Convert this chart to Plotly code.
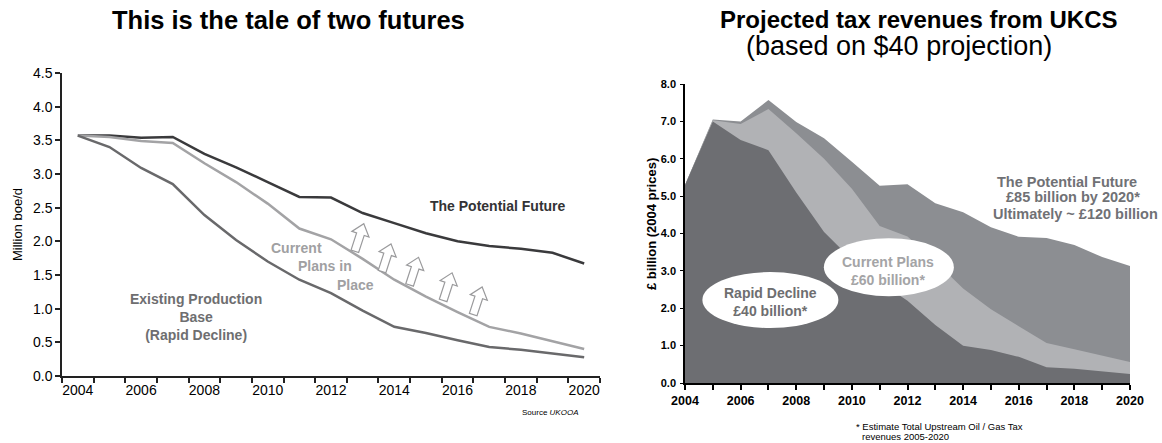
import math
import plotly.graph_objects as go

# ---------------- data ----------------
years = list(range(2004, 2021))

# Left chart: production (million boe/d)
potential_prod = [3.57, 3.57, 3.54, 3.55, 3.30, 3.10, 2.88, 2.66, 2.65, 2.42, 2.27, 2.12, 2.00, 1.93, 1.89, 1.83, 1.67]
current_prod = [3.57, 3.55, 3.49, 3.46, 3.16, 2.88, 2.56, 2.19, 2.03, 1.74, 1.43, 1.18, 0.95, 0.73, 0.63, 0.52, 0.40]
existing_prod = [3.57, 3.40, 3.09, 2.85, 2.39, 2.02, 1.70, 1.43, 1.23, 0.97, 0.73, 0.64, 0.53, 0.43, 0.39, 0.33, 0.28]

# Right chart: tax revenues (GBP billion, 2004 prices)
rev_potential = [5.30, 7.05, 7.00, 7.57, 6.98, 6.55, 5.92, 5.28, 5.32, 4.81, 4.57, 4.17, 3.91, 3.88, 3.69, 3.37, 3.13]
rev_current = [5.30, 7.03, 6.93, 7.33, 6.68, 6.00, 5.20, 4.20, 3.92, 3.25, 2.53, 1.97, 1.52, 1.07, 0.90, 0.72, 0.56]
rev_rapid = [5.30, 7.00, 6.50, 6.23, 5.10, 4.04, 3.30, 2.70, 2.20, 1.55, 1.00, 0.88, 0.70, 0.42, 0.38, 0.30, 0.24]

left_xticks = [2004, 2006, 2008, 2010, 2012, 2014, 2016, 2018, 2020]
left_yticks = [0.0, 0.5, 1.0, 1.5, 2.0, 2.5, 3.0, 3.5, 4.0, 4.5]

# ---------------- styling / layout constants ----------------
W, H = 1162, 443
FONT = "Liberation Sans, Arial, sans-serif"


def px(x):
    return x / W


def py(y):
    return 1 - y / H


fig = go.Figure()

# left chart lines
fig.add_trace(go.Scatter(x=years, y=potential_prod, mode="lines",
                         line=dict(color="#3a3a3c", width=2.5), xaxis="x", yaxis="y",
                         name="The Potential Future", showlegend=False))
fig.add_trace(go.Scatter(x=years, y=current_prod, mode="lines",
                         line=dict(color="#a3a3a5", width=2.5), xaxis="x", yaxis="y",
                         name="Current Plans in Place", showlegend=False))
fig.add_trace(go.Scatter(x=years, y=existing_prod, mode="lines",
                         line=dict(color="#69696b", width=2.5), xaxis="x", yaxis="y",
                         name="Existing Production Base", showlegend=False))

# right chart areas (overlapping, largest first)
fig.add_trace(go.Scatter(x=years, y=rev_potential, mode="lines", fill="tozeroy",
                         fillcolor="#8c8e92", line=dict(width=0, color="#8c8e92"),
                         xaxis="x2", yaxis="y2", name="Potential", showlegend=False))
fig.add_trace(go.Scatter(x=years, y=rev_current, mode="lines", fill="tozeroy",
                         fillcolor="#b1b2b5", line=dict(width=0, color="#b1b2b5"),
                         xaxis="x2", yaxis="y2", name="Current", showlegend=False))
fig.add_trace(go.Scatter(x=years, y=rev_rapid, mode="lines", fill="tozeroy",
                         fillcolor="#6d6e72", line=dict(width=0, color="#6d6e72"),
                         xaxis="x2", yaxis="y2", name="Rapid", showlegend=False))

# ---------------- shapes: hollow arrows and ellipses ----------------
def arrow_path(angle_deg):
    pts = [(0, 15), (9, 4), (4, 4), (4, -14), (-4, -14), (-4, 4), (-9, 4)]
    t = math.radians(angle_deg)
    out = []
    for (x, y) in pts:
        xr = x * math.cos(t) + y * math.sin(t)
        yr = -x * math.sin(t) + y * math.cos(t)
        out.append((xr, yr))
    s = "M %.2f,%.2f " % out[0] + " ".join("L %.2f,%.2f" % p for p in out[1:]) + " Z"
    return s


arrow_anchors = [(2012.89, 2.05), (2013.75, 1.75), (2014.62, 1.55), (2015.68, 1.32), (2016.63, 1.11)]
shapes = []
for ax_, ay_ in arrow_anchors:
    shapes.append(dict(type="path", xref="x", yref="y", xsizemode="pixel", ysizemode="pixel",
                       xanchor=ax_, yanchor=ay_, path=arrow_path(18),
                       line=dict(color="#9a9a9c", width=1.2), fillcolor="white"))

# ellipses (pixel-sized, anchored to data of right chart)
shapes.append(dict(type="circle", xref="x2", yref="y2", xsizemode="pixel", ysizemode="pixel",
                   xanchor=2007.07, yanchor=2.22, x0=-68, x1=68, y0=-28, y1=28,
                   fillcolor="white", line=dict(width=0)))
shapes.append(dict(type="circle", xref="x2", yref="y2", xsizemode="pixel", ysizemode="pixel",
                   xanchor=2011.33, yanchor=3.1, x0=-65, x1=65, y0=-29, y1=29,
                   fillcolor="white", line=dict(width=0)))

# ---------------- annotations ----------------
ann = []


def text(x, y, t, size, color="#000", bold=False, xanchor="center", yanchor="middle", align="center", angle=0):
    if bold:
        t = "<b>" + t.replace("<br>", "</b><br><b>") + "</b>"
    ann.append(dict(x=px(x), y=py(y), xref="paper", yref="paper", text=t, showarrow=False,
                    font=dict(family=FONT, size=size, color=color), xanchor=xanchor,
                    yanchor=yanchor, align=align, textangle=angle))


# titles
text(288, 20, "This is the tale of two futures", 25.5, "#000", bold=True)
text(918, 20, "Projected tax revenues from UKCS", 24, "#000", bold=True)
text(899, 46, "(based on $40 projection)", 27, "#000")

# left axis title
text(17, 225, "Million boe/d", 13, "#000", angle=-90)

# left chart labels
text(498, 206, "The Potential Future", 14, "#333335", bold=True)
text(296, 248, "Current", 14, "#a0a0a2", bold=True)
text(325, 266, "Plans in", 14, "#a0a0a2", bold=True)
text(355, 285, "Place", 14, "#a0a0a2", bold=True)
text(196, 317, "Existing Production<br>Base<br>(Rapid Decline)", 14, "#6e6e70", bold=True)
text(580, 412, "Source <i>UKOOA</i>", 8, "#000", xanchor="right")

# right chart labels
text(651, 224, "£ billion (2004 prices)", 13, "#000", bold=True, angle=-90)
text(770, 302, "Rapid Decline<br>£40 billion*", 14, "#6e6e70", bold=True)
text(888, 271, "Current Plans<br>£60 billion*", 14, "#a4a4a6", bold=True)
text(1067, 182, "The Potential Future", 14.5, "#707175", bold=True)
text(1073, 197, "£85 billion by 2020*", 14.5, "#707175", bold=True)
text(1075, 214, "Ultimately ~ £120 billion", 14.5, "#707175", bold=True)
text(854, 426, "* Estimate Total Upstream Oil / Gas Tax", 9.5, "#000", xanchor="left")
text(860, 436, "revenues 2005-2020", 9.5, "#000", xanchor="left")

# ---------------- layout ----------------
fig.update_layout(
    width=W, height=H,
    margin=dict(l=0, r=0, t=0, b=0, pad=0),
    paper_bgcolor="white", plot_bgcolor="white",
    font=dict(family=FONT, color="#000"),
    showlegend=False,
    shapes=shapes,
    annotations=ann,
    xaxis=dict(domain=[px(62), px(600)], anchor="y", range=[2003.5, 2020.5], automargin=False,
               tickmode="array", tickvals=left_xticks, ticktext=[str(v) for v in left_xticks],
               ticks="", showgrid=False, zeroline=False,
               showline=True, linecolor="#222", linewidth=1.5,
               tickfont=dict(family=FONT, size=14, color="#000"),
               minor=dict(tickmode="linear", tick0=2003.5, dtick=1, ticks="outside",
                          ticklen=5, tickcolor="#222", tickwidth=1.5, showgrid=False)),
    yaxis=dict(domain=[py(376), py(73)], anchor="x", range=[0, 4.5], automargin=False,
               tickmode="array", tickvals=left_yticks, tickformat=".1f",
               ticks="outside", ticklen=5, tickcolor="#222", tickwidth=1.5,
               showgrid=False, zeroline=False,
               showline=True, linecolor="#222", linewidth=1.5,
               tickfont=dict(family=FONT, size=14, color="#000")),
    xaxis2=dict(domain=[px(685), px(1130)], anchor="y2", range=[2004, 2020], automargin=False,
                tickmode="linear", tick0=2004, dtick=2,
                ticks="outside", ticklen=5, tickcolor="#000", tickwidth=1.5,
                showgrid=False, zeroline=False,
                showline=True, linecolor="#000", linewidth=1.5,
                tickfont=dict(family=FONT, size=12.5, color="#000", weight="bold"),
                minor=dict(tickmode="linear", tick0=2004, dtick=1, ticks="outside",
                           ticklen=5, tickcolor="#000", tickwidth=1.5, showgrid=False)),
    yaxis2=dict(domain=[py(383), py(84)], anchor="x2", range=[0, 8], automargin=False,
                tickmode="linear", tick0=0, dtick=1, tickformat=".1f",
                ticks="outside", ticklen=3, tickcolor="#000", tickwidth=1.2,
                ticklabelstandoff=2,
                showgrid=False, zeroline=False,
                showline=True, linecolor="#000", linewidth=1.5,
                tickfont=dict(family=FONT, size=11, color="#000", weight="bold")),
)

fig.write_html("out.html")
